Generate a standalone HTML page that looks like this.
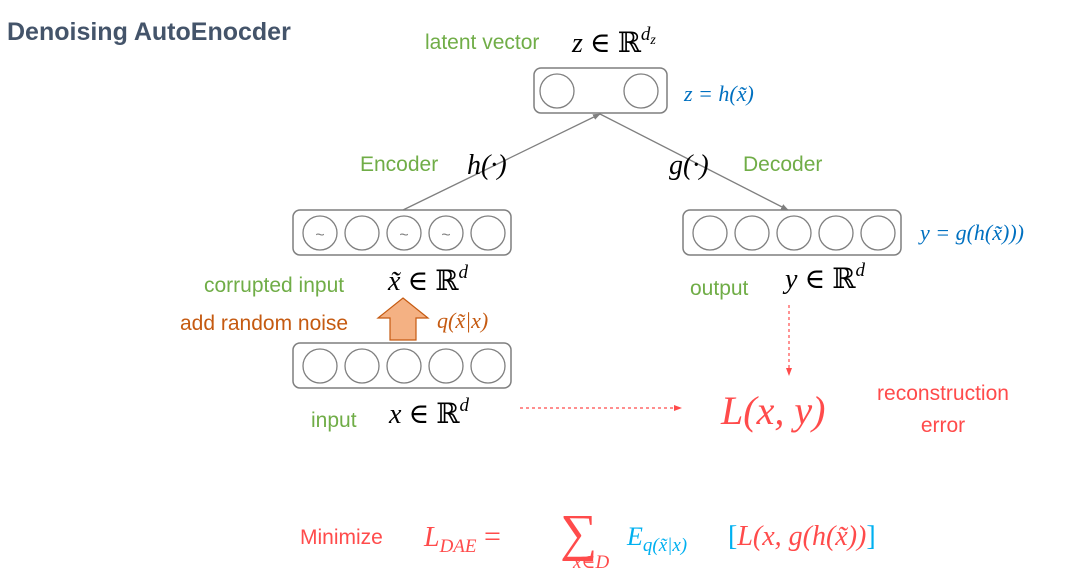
<!DOCTYPE html>
<html><head><meta charset="utf-8"><style>
html,body{margin:0;padding:0;background:#fff;}
svg{display:block;}
.s{font-family:"Liberation Sans",sans-serif;}
.m{font-family:"Liberation Serif","DejaVu Serif",serif;font-style:italic;}
.r{font-family:"Liberation Serif","DejaVu Serif",serif;}
</style></head><body>
<svg width="1092" height="577" viewBox="0 0 1092 577" xmlns="http://www.w3.org/2000/svg">
<defs>
<marker id="ag" markerWidth="8" markerHeight="8" refX="7" refY="4" orient="auto" markerUnits="userSpaceOnUse"><path d="M0,1 L8,4 L0,7z" fill="#7f7f7f"/></marker>
<marker id="ar" markerWidth="8" markerHeight="8" refX="7" refY="4" orient="auto" markerUnits="userSpaceOnUse"><path d="M0,1 L8,4 L0,7z" fill="#ff4b4b"/></marker>
</defs>
<text x="7" y="40" class="s" font-size="25" font-weight="bold" fill="#44546a">Denoising AutoEnocder</text>

<!-- latent -->
<text x="425" y="49" class="s" font-size="21" fill="#70ad47">latent vector</text>
<text x="572" y="52" class="m" font-size="28" fill="#000">z <tspan class="r" font-style="normal">∈ ℝ</tspan><tspan font-size="19" dy="-12">d</tspan><tspan font-size="14" dy="4">z</tspan></text>
<rect x="534" y="68" width="133" height="45" rx="7" fill="none" stroke="#7f7f7f" stroke-width="1.5"/>
<circle cx="557" cy="91" r="17" fill="none" stroke="#7f7f7f" stroke-width="1.3"/>
<circle cx="641" cy="91" r="17" fill="none" stroke="#7f7f7f" stroke-width="1.3"/>
<text x="684" y="101" class="m" font-size="22" fill="#0070c0">z = h(x̃)</text>

<!-- connectors -->
<line x1="403" y1="210" x2="600" y2="114" stroke="#7f7f7f" stroke-width="1.3" marker-end="url(#ag)"/>
<line x1="600" y1="114" x2="788" y2="210" stroke="#7f7f7f" stroke-width="1.3" marker-end="url(#ag)"/>
<text x="360" y="171" class="s" font-size="21" fill="#70ad47">Encoder</text>
<text x="467" y="174" class="m" font-size="28" fill="#000">h(·)</text>
<text x="669" y="174" class="m" font-size="28" fill="#000">g(·)</text>
<text x="743" y="171" class="s" font-size="21" fill="#70ad47">Decoder</text>

<!-- encoder box -->
<rect x="293" y="210" width="218" height="45" rx="7" fill="none" stroke="#7f7f7f" stroke-width="1.5"/>
<g fill="none" stroke="#7f7f7f" stroke-width="1.3">
<circle cx="320" cy="233" r="17"/><circle cx="362" cy="233" r="17"/><circle cx="404" cy="233" r="17"/><circle cx="446" cy="233" r="17"/><circle cx="488" cy="233" r="17"/>
</g>
<g class="s" font-size="16" fill="#7f7f7f" text-anchor="middle"><text x="320" y="240">~</text><text x="404" y="240">~</text><text x="446" y="240">~</text></g>

<!-- decoder box -->
<rect x="683" y="210" width="218" height="45" rx="7" fill="none" stroke="#7f7f7f" stroke-width="1.5"/>
<g fill="none" stroke="#7f7f7f" stroke-width="1.3">
<circle cx="710" cy="233" r="17"/><circle cx="752" cy="233" r="17"/><circle cx="794" cy="233" r="17"/><circle cx="836" cy="233" r="17"/><circle cx="878" cy="233" r="17"/>
</g>
<text x="920" y="240" class="m" font-size="22" fill="#0070c0">y = g(h(x̃)))</text>

<text x="204" y="292" class="s" font-size="21" fill="#70ad47">corrupted input</text>
<text x="388" y="290" class="m" font-size="28" fill="#000">x̃ <tspan class="r" font-style="normal">∈ ℝ</tspan><tspan font-size="19" dy="-12">d</tspan></text>
<text x="690" y="295" class="s" font-size="21" fill="#70ad47">output</text>
<text x="785" y="288" class="m" font-size="28" fill="#000">y <tspan class="r" font-style="normal">∈ ℝ</tspan><tspan font-size="19" dy="-12">d</tspan></text>

<!-- noise arrow -->
<path d="M403,298 L428,318 L416,318 L416,340 L390,340 L390,318 L378,318 Z" fill="#f4b183" stroke="#c55a11" stroke-width="1.2"/>
<text x="180" y="330" class="s" font-size="21" fill="#c55a11">add random noise</text>
<text x="437" y="328" class="m" font-size="22" fill="#c55a11">q(x̃|x)</text>

<!-- input box -->
<rect x="293" y="343" width="218" height="45" rx="7" fill="none" stroke="#7f7f7f" stroke-width="1.5"/>
<g fill="none" stroke="#7f7f7f" stroke-width="1.3">
<circle cx="320" cy="366" r="17"/><circle cx="362" cy="366" r="17"/><circle cx="404" cy="366" r="17"/><circle cx="446" cy="366" r="17"/><circle cx="488" cy="366" r="17"/>
</g>
<text x="311" y="427" class="s" font-size="21" fill="#70ad47">input</text>
<text x="389" y="423" class="m" font-size="28" fill="#000">x <tspan class="r" font-style="normal">∈ ℝ</tspan><tspan font-size="19" dy="-12">d</tspan></text>

<!-- loss -->
<line x1="520" y1="408" x2="681" y2="408" stroke="#ff4b4b" stroke-width="1.2" stroke-dasharray="3,3" marker-end="url(#ar)"/>
<line x1="789" y1="305" x2="789" y2="375" stroke="#ff4b4b" stroke-width="1.2" stroke-dasharray="3,3" marker-end="url(#ar)"/>
<text x="721" y="424" class="m" font-size="40" fill="#ff4b4b">L(x, y)</text>
<text x="943" y="400" class="s" font-size="21" fill="#ff4b4b" text-anchor="middle">reconstruction</text>
<text x="943" y="432" class="s" font-size="21" fill="#ff4b4b" text-anchor="middle">error</text>

<!-- objective -->
<text x="300" y="544" class="s" font-size="21" fill="#ff4b4b">Minimize</text>
<text x="424" y="546" class="m" font-size="28" fill="#ff4b4b">L<tspan font-size="19" dy="6">DAE</tspan><tspan class="r" font-style="normal" dy="-6" font-size="30"> =</tspan></text>
<text x="560" y="550" class="r" font-size="52" fill="#ff4b4b">∑</text>
<text x="573" y="568" class="m" font-size="19" fill="#ff4b4b">x∈D</text>
<text x="627" y="545" class="m" font-size="26" fill="#00b0f0">E<tspan font-size="19" dy="6">q(x̃|x)</tspan></text>
<text x="728" y="545" class="r" font-size="28" fill="#00b0f0">[<tspan class="m" fill="#ff4b4b">L(x, g(h(x̃))</tspan>]</text>
</svg>
</body></html>
